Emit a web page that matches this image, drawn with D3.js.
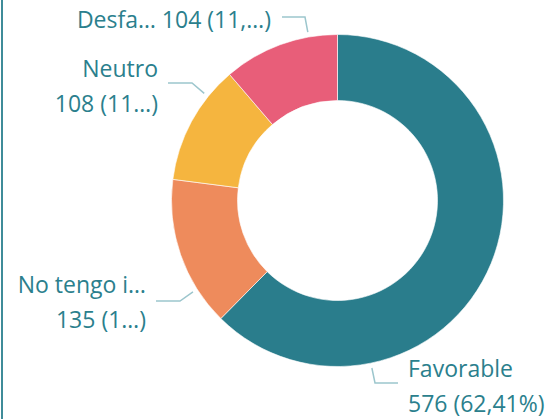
<!DOCTYPE html>
<html>
<head>
<meta charset="utf-8">
<script src="https://cdn.jsdelivr.net/npm/d3@7"></script>
<style>
  body { margin: 0; background: #fff; }
  svg { display: block; }
</style>
</head>
<body>
<script>
const categories = ["Favorable", "No tengo idea", "Neutro", "Desfavorable"];
const values = [576, 135, 108, 104];
const colors = ["#2a7d8c", "#ee8b5c", "#f5b53f", "#e85e79"];
// label text as shown (truncated in the original)
const labelLines = [
  ["Favorable", "576 (62,41%)"],
  ["No tengo i\u2026", "135 (1\u2026)"],
  ["Neutro", "108 (11\u2026)"],
  ["Desfa\u2026 104 (11,\u2026)"]
];

const width = 550, height = 419;
const cx = 337.5, cy = 200.5;
const outerR = 166, innerR = 100;
const textColor = "#2b7f8d";

// leader/label placement: angle of leader start (deg), elbow & end offsets from center
const layout = [
  { a: 168.4, elbow: [37.5, 182.5], end: [60.5, 182.5], tx: 70.5, ty: 176.5, anchor: "start" },
  { a: 237.7, elbow: [-157.5, 100.5], end: [-181.5, 100.5], tx: -191.5, ty: 92.5, anchor: "end" },
  { a: 308.8, elbow: [-145.5, -117.5], end: [-169.5, -117.5], tx: -179.5, ty: -123.5, anchor: "end" },
  { a: 350, elbow: [-32.5, -183.5], end: [-55.5, -183.5], tx: -66.5, ty: -172.5, anchor: "end" }
];

const svg = d3.select("body").append("svg")
  .attr("width", width)
  .attr("height", height);

svg.append("line")
  .attr("x1", 2).attr("x2", 2)
  .attr("y1", 0).attr("y2", height)
  .attr("stroke", "#3f8c99")
  .attr("stroke-width", 2);

const data = categories.map((c, i) => ({ name: c, value: values[i], color: colors[i], lines: labelLines[i] }));

const pie = d3.pie().value(d => d.value).sort(null);
const arc = d3.arc().innerRadius(innerR).outerRadius(outerR);

const g = svg.append("g").attr("transform", `translate(${cx},${cy})`);

g.selectAll("path.slice")
  .data(pie(data))
  .join("path")
  .attr("class", "slice")
  .attr("d", arc)
  .attr("fill", d => d.data.color)
  .attr("stroke", "#fff")
  .attr("stroke-width", 0.6);

const labels = g.selectAll("g.lbl")
  .data(pie(data))
  .join("g")
  .attr("class", "lbl");

labels.append("polyline")
  .attr("fill", "none")
  .attr("stroke", "#9cc6cd")
  .attr("stroke-width", 1.5)
  .attr("points", (d, i) => {
    const L = layout[i];
    const p = d3.pointRadial(L.a * Math.PI / 180, outerR + 5);
    return [p, L.elbow, L.end].map(q => q.join(",")).join(" ");
  });

labels.append("text")
  .attr("text-anchor", (d, i) => layout[i].anchor)
  .attr("fill", textColor)
  .style("font-family", "'Open Sans', sans-serif")
  .style("font-size", "23px")
  .each(function (d, i) {
    const L = layout[i];
    d3.select(this).selectAll("tspan")
      .data(d.data.lines)
      .join("tspan")
      .attr("x", L.tx)
      .attr("y", (t, j) => L.ty + j * 35)
      .text(t => t);
  });
</script>
</body>
</html>
